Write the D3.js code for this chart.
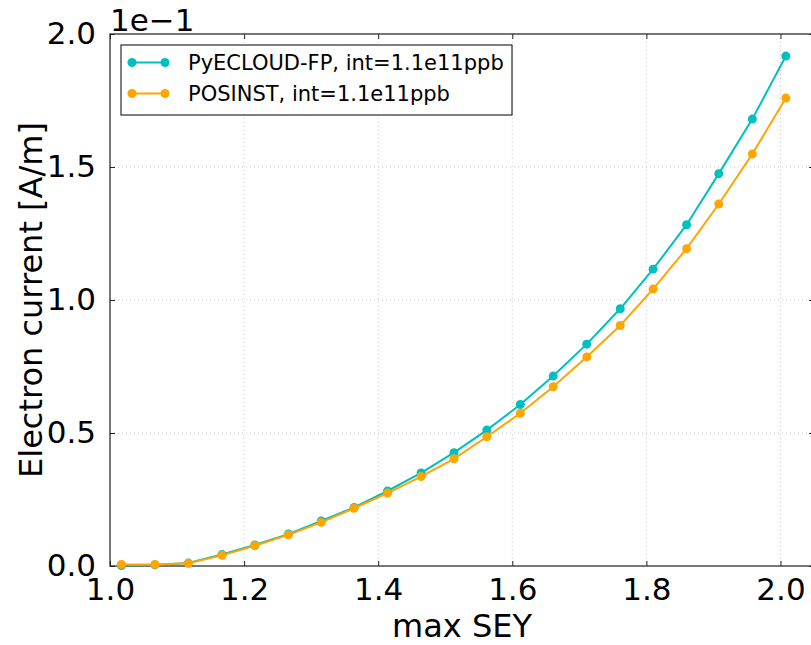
<!DOCTYPE html>
<html>
<head>
<meta charset="utf-8">
<script src="https://cdn.jsdelivr.net/npm/d3@7"></script>
<style>
  body { margin: 0; background: #fff; }
  svg { display: block; font-family: "DejaVu Sans", sans-serif; }
</style>
</head>
<body>
<div id="viz"></div>
<script>
'use strict';

// max SEY values (x)
const sey = [1.017, 1.067, 1.117, 1.167, 1.216, 1.266, 1.315, 1.364, 1.414, 1.464,
             1.513, 1.562, 1.612, 1.661, 1.711, 1.761, 1.810, 1.860, 1.908, 1.958, 2.008];

// electron current [A/m]
const pyecloud = [0.0002, 0.0004, 0.0011, 0.0043, 0.0079, 0.0120, 0.0169, 0.0220, 0.0282, 0.0350,
                  0.0426, 0.0511, 0.0607, 0.0714, 0.0834, 0.0967, 0.1116, 0.1283, 0.1475, 0.1680, 0.1917];
const posinst = [0.0006, 0.0006, 0.0010, 0.0040, 0.0076, 0.0117, 0.0164, 0.0217, 0.0274, 0.0336,
                 0.0403, 0.0486, 0.0574, 0.0674, 0.0786, 0.0904, 0.1041, 0.1193, 0.1361, 0.1549, 0.1759];

const seriesNames = ['PyECLOUD-FP, int=1.1e11ppb', 'POSINST, int=1.1e11ppb'];
const seriesColors = ['#00bfbf', '#ffa500'];

const xTicks = [1.0, 1.2, 1.4, 1.6, 1.8, 2.0];
const yTicks = [0, 0.05, 0.10, 0.15, 0.20];

const W = 811, H = 645;
const margin = { top: 34, right: -3, bottom: 79, left: 110 };
const width = W - margin.left - margin.right;
const height = H - margin.top - margin.bottom;

const svg = d3.select('#viz').append('svg')
    .attr('width', W)
    .attr('height', H);

const g = svg.append('g')
    .attr('transform', `translate(${margin.left},${margin.top})`);

const xScale = d3.scaleLinear().domain([1.0, 2.05]).range([0, width]);
const yScale = d3.scaleLinear().domain([0, 0.2]).range([height, 0]);

// grid
g.append('g').selectAll('line')
    .data(xTicks)
    .join('line')
    .attr('x1', d => xScale(d)).attr('x2', d => xScale(d))
    .attr('y1', 0).attr('y2', height)
    .attr('stroke', '#c8c8c8').attr('stroke-width', 1).attr('stroke-dasharray', '1,3');
g.append('g').selectAll('line')
    .data(yTicks)
    .join('line')
    .attr('y1', d => yScale(d)).attr('y2', d => yScale(d))
    .attr('x1', 0).attr('x2', width)
    .attr('stroke', '#c8c8c8').attr('stroke-width', 1).attr('stroke-dasharray', '1,3');

// axes, ticks pointing inward
const fmt = d3.format('.1f');
const tickLen = 5;
const xBottom = g.append('g').attr('transform', `translate(0,${height})`)
    .call(d3.axisBottom(xScale).tickValues(xTicks).tickSize(-tickLen).tickPadding(12).tickFormat(fmt));
const xTop = g.append('g')
    .call(d3.axisTop(xScale).tickValues(xTicks).tickSize(-tickLen).tickFormat(''));
const yLeft = g.append('g')
    .call(d3.axisLeft(yScale).tickValues(yTicks).tickSize(-tickLen).tickPadding(14).tickFormat(d => fmt(d * 10)));
const yRight = g.append('g').attr('transform', `translate(${width},0)`)
    .call(d3.axisRight(yScale).tickValues(yTicks).tickSize(-tickLen).tickFormat(''));

[xBottom, xTop, yLeft, yRight].forEach(a => {
    a.select('.domain').remove();
    a.selectAll('line').attr('stroke', '#222');
    a.selectAll('text').attr('font-size', '31px').attr('fill', '#000')
        .attr('font-family', '"DejaVu Sans", sans-serif');
});
xBottom.selectAll('text').attr('dy', '0.71em');
yLeft.selectAll('text').attr('dy', '0.3em');

// frame
g.append('rect')
    .attr('width', width).attr('height', height)
    .attr('fill', 'none').attr('stroke', '#222').attr('stroke-width', 1.2);

// series
const line = d3.line().x(d => xScale(d[0])).y(d => yScale(d[1]));
[pyecloud, posinst].forEach((vals, i) => {
    const pts = sey.map((x, j) => [x, vals[j]]);
    const s = g.append('g');
    s.append('path')
        .datum(pts)
        .attr('d', line)
        .attr('fill', 'none')
        .attr('stroke', seriesColors[i])
        .attr('stroke-width', 2);
    s.selectAll('circle')
        .data(pts)
        .join('circle')
        .attr('cx', d => xScale(d[0]))
        .attr('cy', d => yScale(d[1]))
        .attr('r', 4.5)
        .attr('fill', seriesColors[i]);
});

// labels
svg.append('text')
    .attr('x', margin.left + width / 2).attr('y', 637)
    .attr('text-anchor', 'middle').attr('font-size', '32px')
    .text('max SEY');
svg.append('text')
    .attr('transform', `translate(42,${margin.top + height / 2}) rotate(-90)`)
    .attr('text-anchor', 'middle').attr('font-size', '32px')
    .text('Electron current [A/m]');
svg.append('text')
    .attr('x', 110).attr('y', 31)
    .attr('font-size', '31px')
    .text('1e\u22121');

// legend
const legend = svg.append('g').attr('transform', 'translate(121,45)');
legend.append('rect')
    .attr('width', 391).attr('height', 70)
    .attr('fill', '#fff').attr('stroke', '#000').attr('stroke-width', 1);
seriesNames.forEach((name, i) => {
    const row = legend.append('g').attr('transform', `translate(0,${17.5 + i * 31})`);
    row.append('line')
        .attr('x1', 11).attr('x2', 44)
        .attr('stroke', seriesColors[i]).attr('stroke-width', 2);
    [11, 44].forEach(cx => row.append('circle')
        .attr('cx', cx).attr('r', 4.5).attr('fill', seriesColors[i]));
    row.append('text')
        .attr('x', 67).attr('y', 0).attr('dy', '0.36em')
        .attr('font-size', '21px')
        .text(name);
});
</script>
</body>
</html>
